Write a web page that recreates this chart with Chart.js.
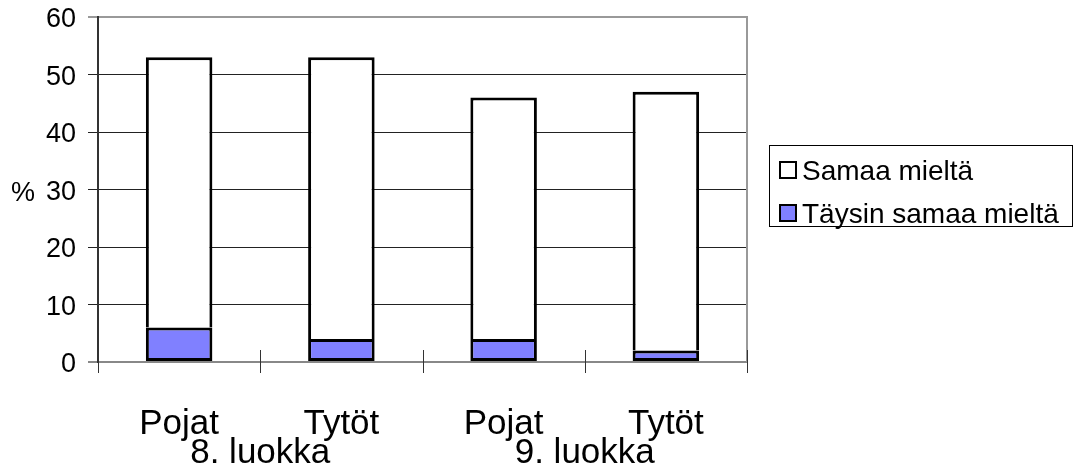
<!DOCTYPE html>
<html>
<head>
<meta charset="utf-8">
<script src="https://cdn.jsdelivr.net/npm/chart.js@4"></script>
<style>
  html, body { margin: 0; padding: 0; background: #fff; }
</style>
</head>
<body>
<canvas id="chart" width="1075" height="467"></canvas>
<script>
// data
const categories = ['Pojat', 'Tytöt', 'Pojat', 'Tytöt'];
const groups = ['8. luokka', '9. luokka'];
const taysinSamaa = [6, 4, 4, 2];      // Täysin samaa mieltä
const samaa = [47, 49, 42, 45];        // Samaa mieltä (stacked on top)
const yMin = 0, yMax = 60, yStep = 10;
const yLabel = '%';

const FONT = "'Liberation Sans', Arial, sans-serif";
Chart.defaults.font.family = FONT;
Chart.defaults.color = '#000';

// extra drawing: frame, x tick marks, group labels, % label, framed legend
const extras = {
  id: 'extras',
  afterDraw(chart) {
    const ctx = chart.ctx;
    const area = chart.chartArea;
    const x = chart.scales.x;
    const y = chart.scales.y;
    ctx.save();

    // right border of plot area
    ctx.strokeStyle = '#999';
    ctx.lineWidth = 2;
    ctx.beginPath();
    ctx.moveTo(area.right, area.top - 1);
    ctx.lineTo(area.right, area.bottom);
    ctx.stroke();

    // category boundary tick marks crossing the axis
    const half = (x.getPixelForValue(1) - x.getPixelForValue(0)) / 2;
    ctx.strokeStyle = '#333';
    ctx.lineWidth = 1;
    for (let i = 0; i <= categories.length; i++) {
      const px = Math.round(x.getPixelForValue(0) - half + i * half * 2) + 0.5;
      ctx.beginPath();
      ctx.moveTo(px, area.bottom - 12);
      ctx.lineTo(px, area.bottom + 11);
      ctx.stroke();
    }

    // group labels under each pair of categories
    ctx.fillStyle = '#000';
    ctx.font = '35px ' + FONT;
    ctx.textAlign = 'center';
    ctx.textBaseline = 'alphabetic';
    groups.forEach((g, i) => {
      const cx = (x.getPixelForValue(i * 2) + x.getPixelForValue(i * 2 + 1)) / 2;
      ctx.fillText(g, cx, area.bottom + 101);
    });

    // % label beside the axis
    ctx.font = '27px ' + FONT;
    ctx.textAlign = 'left';
    ctx.textBaseline = 'middle';
    ctx.fillText(yLabel, 11, y.getPixelForValue(30) + 4);

    // legend box
    ctx.font = '28px ' + FONT;
    const lx = area.right + 22, ly = 145, lw = 303, lh = 81;
    ctx.strokeStyle = '#000';
    ctx.lineWidth = 1;
    ctx.strokeRect(lx + 0.5, ly + 0.5, lw, lh);
    const items = chart.data.datasets.slice().reverse();
    items.forEach((ds, i) => {
      const iy = ly + 26 + i * 43;
      ctx.fillStyle = ds.backgroundColor;
      ctx.fillRect(lx + 11, iy - 9, 16, 16);
      ctx.strokeStyle = '#000';
      ctx.lineWidth = 2;
      ctx.strokeRect(lx + 11, iy - 9, 16, 16);
      ctx.fillStyle = '#000';
      ctx.fillText(ds.label, lx + 33, iy + 1);
    });
    ctx.restore();
  }
};

new Chart(document.getElementById('chart'), {
  type: 'bar',
  data: {
    labels: categories,
    datasets: [
      {
        label: 'Täysin samaa mieltä',
        data: taysinSamaa,
        backgroundColor: '#8080ff',
        borderColor: '#000',
        borderWidth: 3,
        borderSkipped: false
      },
      {
        label: 'Samaa mieltä',
        data: samaa,
        backgroundColor: '#ffffff',
        borderColor: '#000',
        borderWidth: { top: 3, left: 3, right: 3, bottom: 0 },
        borderSkipped: false
      }
    ]
  },
  options: {
    responsive: false,
    animation: false,
    layout: { padding: { top: 17, right: 328, left: 0, bottom: 0 } },
    plugins: { legend: { display: false }, tooltip: { enabled: false } },
    datasets: { bar: { categoryPercentage: 1, barPercentage: 0.41 } },
    scales: {
      x: {
        stacked: true,
        grid: { display: false },
        border: { display: true, color: '#888', width: 2 },
        ticks: { font: { size: 35 }, color: '#000', padding: 33, maxRotation: 0 },
        afterFit(s) { s.height = 105; s.paddingLeft = 0; s.paddingRight = 0; }
      },
      y: {
        stacked: true,
        min: yMin,
        max: yMax,
        ticks: { stepSize: yStep, font: { size: 27 }, color: '#000', padding: 12, labelOffset: 3 },
        grid: {
          color: c => c.tick.value === yMax ? '#999' : (c.tick.value === yMin ? '#888' : '#222'),
          lineWidth: c => (c.tick.value === yMax || c.tick.value === yMin) ? 2 : 1,
          tickLength: 10
        },
        border: { color: '#333', width: 2 },
        afterFit(s) { s.width = 98; s.paddingTop = 0; s.paddingBottom = 0; }
      }
    }
  },
  plugins: [extras]
});
</script>
</body>
</html>
